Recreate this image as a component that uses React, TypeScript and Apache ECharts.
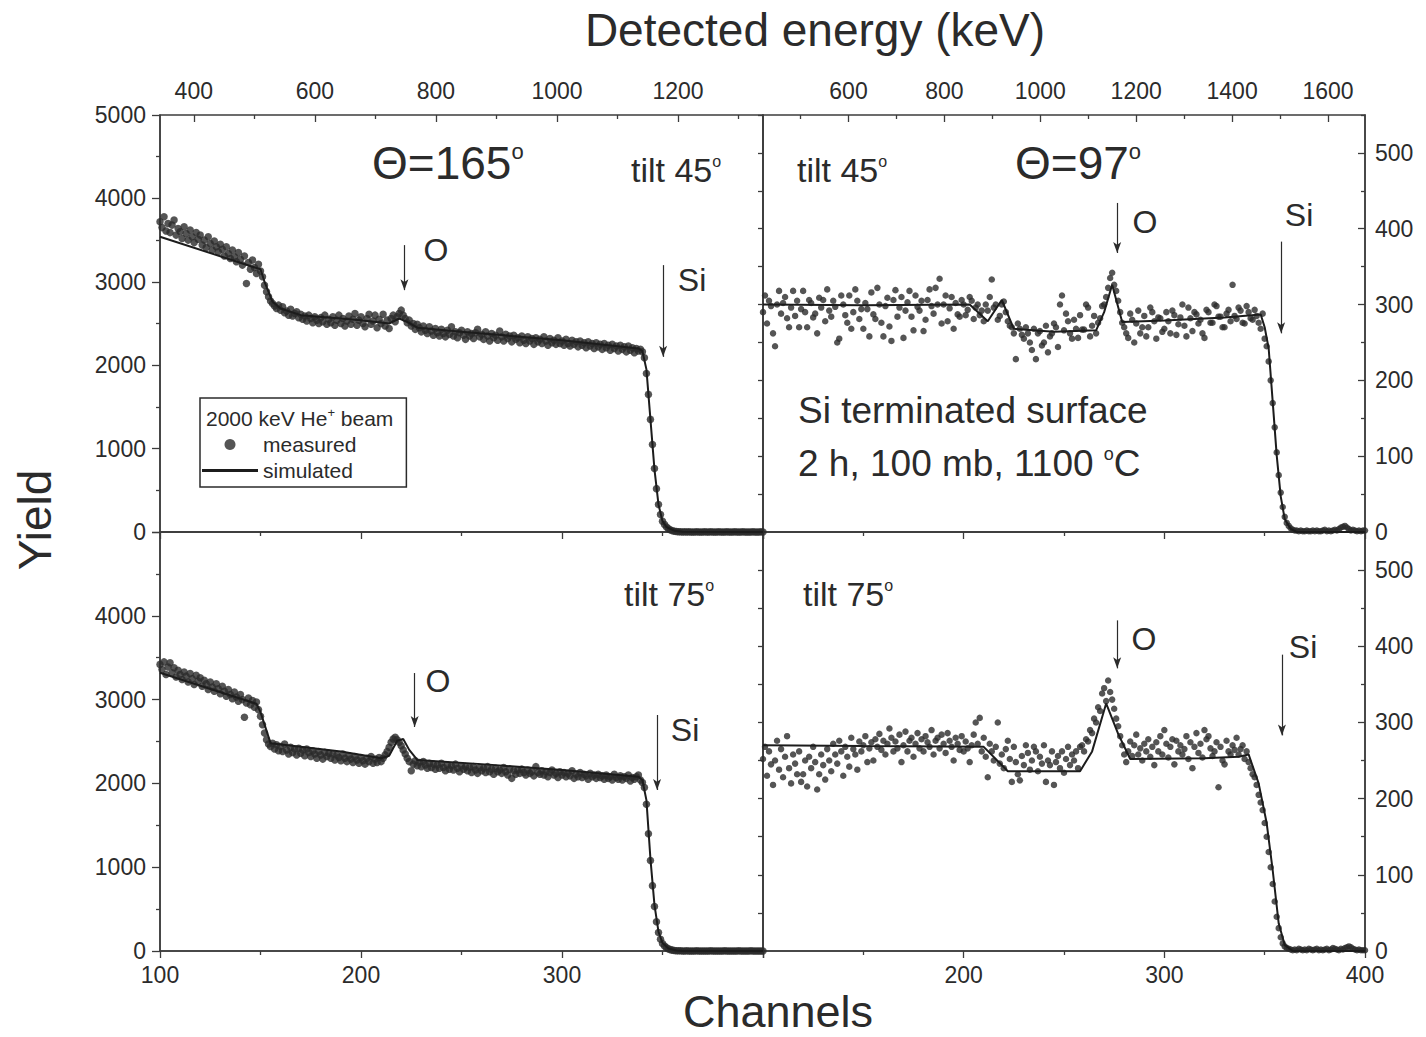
import React, { useEffect, useRef } from "react";
import * as echarts from "echarts";

// ---------- data ----------
const CH_START = 100;
const CH_STEP = 1;

// measured spectra, one value per channel (100..400)
const measuredTL = [
  3720, 3650, 3780, 3610, 3700, 3590, 3680, 3740, 3560, 3640,
  3600, 3520, 3660, 3580, 3500, 3620, 3540, 3470, 3590, 3510,
  3560, 3440, 3500, 3410, 3540, 3460, 3380, 3490, 3420, 3360,
  3450, 3390, 3310, 3420, 3340, 3280, 3380, 3300, 3240, 3350,
  3270, 3200, 3310, 2980, 3230, 3150, 3260, 3170, 3100, 3210,
  3130, 3060, 2960, 2880, 2820, 2770, 2740, 2710, 2680, 2720,
  2660, 2700, 2630, 2650, 2600, 2670, 2590, 2620, 2640, 2570,
  2610, 2550, 2590, 2530, 2600, 2560, 2510, 2580, 2540, 2500,
  2570, 2520, 2600, 2490, 2550, 2510, 2580, 2480, 2540, 2600,
  2500, 2560, 2470, 2530, 2590, 2490, 2550, 2620, 2480, 2540,
  2580, 2500, 2460, 2560, 2610, 2490, 2530, 2600, 2450, 2550,
  2500, 2610, 2470, 2540, 2440, 2560, 2600, 2520, 2580, 2620,
  2660, 2600, 2560, 2510, 2540, 2470, 2500, 2430, 2490, 2450,
  2400, 2470, 2420, 2380, 2460, 2410, 2360, 2440, 2390, 2350,
  2430, 2380, 2340, 2420, 2370, 2460, 2350, 2400, 2330, 2390,
  2420, 2360, 2310, 2400, 2350, 2380, 2320, 2390, 2430, 2340,
  2370, 2310, 2400, 2350, 2290, 2380, 2330, 2360, 2300, 2410,
  2340, 2290, 2370, 2320, 2350, 2280, 2360, 2310, 2330, 2270,
  2350, 2300, 2260, 2340, 2290, 2320, 2250, 2330, 2280, 2310,
  2260, 2340, 2290, 2240, 2320, 2270, 2300, 2250, 2330, 2260,
  2290, 2240, 2310, 2260, 2230, 2300, 2250, 2280, 2220, 2290,
  2240, 2270, 2210, 2280, 2230, 2260, 2200, 2270, 2220, 2250,
  2190, 2260, 2210, 2240, 2180, 2250, 2200, 2230, 2170, 2240,
  2190, 2220, 2160, 2230, 2180, 2210, 2150, 2200, 2170, 2190,
  2160, 2090, 1900, 1650, 1350, 1050, 760, 520, 330, 210,
  130, 90, 60, 38, 25, 16, 10, 6, 4, 2,
  1, 3, 0, 2, 0, 1, 0, 2, 1, 0,
  0, 2, 0, 1, 3, 0, 1, 0, 2, 0,
  1, 0, 2, 0, 0, 1, 3, 0, 1, 0,
  2, 0, 1, 0, 0, 2, 0, 1, 0, 2,
  0,
];
const measuredBL = [
  3420, 3360, 3450, 3300, 3390, 3440, 3320, 3380, 3270, 3350,
  3300, 3240, 3330, 3280, 3210, 3310, 3250, 3180, 3290, 3220,
  3260, 3160, 3230, 3190, 3120, 3210, 3150, 3100, 3190, 3130,
  3070, 3160, 3100, 3040, 3120, 3060, 3010, 3090, 3030, 2980,
  3060, 3000, 2790, 2960, 3020, 2940, 2990, 2910, 2970, 2880,
  2800, 2700, 2600, 2520, 2470, 2440, 2480, 2410, 2460, 2390,
  2440, 2380, 2470, 2400, 2350, 2430, 2370, 2410, 2340, 2420,
  2360, 2400, 2330, 2410, 2370, 2320, 2390, 2350, 2300, 2380,
  2340, 2290, 2370, 2320, 2360, 2300, 2350, 2280, 2340, 2310,
  2270, 2350, 2300, 2260, 2330, 2290, 2250, 2320, 2280, 2240,
  2310, 2270, 2230, 2300, 2260, 2320, 2240, 2290, 2250, 2310,
  2260, 2300, 2340, 2380, 2430, 2490, 2530, 2550, 2520, 2490,
  2450, 2400, 2350, 2300, 2260, 2150, 2230, 2270, 2210, 2250,
  2200, 2260, 2220, 2180, 2240, 2190, 2230, 2170, 2220, 2180,
  2240, 2190, 2150, 2220, 2170, 2210, 2160, 2230, 2180, 2140,
  2210, 2170, 2200, 2150, 2190, 2130, 2200, 2160, 2120, 2190,
  2150, 2180, 2130, 2200, 2140, 2170, 2110, 2180, 2140, 2160,
  2120, 2190, 2140, 2100, 2170, 2060, 2150, 2110, 2160, 2120,
  2170, 2130, 2100, 2160, 2120, 2140, 2090, 2200, 2130, 2110,
  2150, 2100, 2140, 2080, 2130, 2160, 2100, 2120, 2070, 2140,
  2100, 2130, 2080, 2120, 2090, 2150, 2060, 2110, 2080, 2130,
  2070, 2110, 2090, 2050, 2120, 2080, 2100, 2060, 2110, 2070,
  2090, 2050, 2100, 2060, 2080, 2040, 2110, 2070, 2050, 2090,
  2040, 2080, 2060, 2100, 2030, 2070, 2050, 2080, 2100, 2040,
  2010, 1950, 1750, 1400, 1080, 780, 530, 350, 220, 140,
  90, 60, 40, 25, 16, 10, 6, 4, 3, 2,
  1, 0, 2, 0, 1, 0, 0, 2, 0, 1,
  0, 1, 0, 0, 2, 0, 1, 0, 0, 1,
  0, 2, 0, 1, 0, 0, 1, 0, 2, 0,
  0, 1, 0, 0, 2, 0, 1, 0, 0, 1,
  0,
];
const measuredTR = [
  290, 312, 275, 305, 298, 262, 245, 300, 318, 288,
  302, 310, 282, 270, 296, 318, 285, 305, 270, 294,
  318, 290, 270, 306, 302, 283, 288, 262, 309, 296,
  306, 278, 320, 292, 284, 305, 297, 250, 255, 312,
  300, 286, 276, 312, 268, 290, 320, 305, 281, 294,
  268, 302, 294, 258, 316, 287, 281, 322, 300, 276,
  258, 298, 309, 271, 252, 306, 319, 284, 296, 310,
  256, 292, 303, 318, 284, 266, 312, 297, 292, 305,
  265, 280, 306, 320, 298, 288, 322, 300, 334, 275,
  300, 312, 278, 295, 310, 268, 302, 287, 284, 306,
  300, 286, 293, 310, 305, 281, 296, 300, 286, 292,
  278, 300, 292, 310, 333, 296, 300, 280, 285, 300,
  304, 290, 278, 272, 270, 262, 228, 275, 268, 260,
  255, 270, 262, 250, 240, 268, 228, 262, 265, 246,
  250, 272, 237, 258, 262, 275, 270, 244, 300, 312,
  266, 288, 278, 262, 255, 280, 268, 256, 286, 267,
  267, 300, 296, 258, 272, 285, 262, 276, 282, 298,
  300, 310, 322, 335, 342, 326, 318, 305, 290, 276,
  270, 262, 256, 288, 280, 250, 275, 292, 262, 270,
  285, 258, 270, 296, 290, 278, 255, 283, 282, 264,
  268, 290, 278, 262, 292, 286, 260, 274, 283, 300,
  272, 258, 296, 282, 265, 290, 287, 275, 280, 262,
  256, 293, 290, 276, 276, 300, 298, 284, 284, 270,
  270, 288, 293, 278, 326, 285, 281, 296, 292, 276,
  275, 298, 290, 282, 280, 293, 285, 276, 268, 288,
  255, 245, 225, 200, 170, 138, 105, 75, 52, 33,
  20, 12, 8, 5, 3, 2, 2, 1, 2, 1,
  1, 2, 1, 1, 2, 1, 2, 1, 1, 2,
  3, 1, 2, 1, 2, 3, 2, 4, 6, 7,
  8, 6, 4, 2, 3, 2, 1, 2, 1, 2,
  2,
];
const measuredBR = [
  252, 268, 230, 262, 245, 218, 250, 276, 238, 265,
  228, 255, 282, 240, 220, 258, 246, 232, 262, 222,
  232, 250, 216, 255, 240, 268, 248, 212, 232, 258,
  244, 225, 265, 250, 236, 272, 258, 246, 276, 262,
  230, 268, 255, 242, 280, 265, 258, 238, 275, 262,
  270, 282, 248, 266, 274, 250, 278, 268, 285, 264,
  276, 258, 272, 292, 280, 262, 275, 266, 284, 248,
  270, 288, 262, 276, 280, 255, 272, 286, 266, 278,
  262, 282, 274, 268, 290, 258, 276, 280, 266, 284,
  272, 260, 286, 276, 268, 250, 280, 272, 264, 282,
  262, 275, 266, 248, 270, 284, 300, 272, 306, 262,
  280, 255, 228, 272, 262, 250, 268, 300, 246, 258,
  240, 265, 276, 252, 222, 268, 248, 232, 224, 256,
  244, 270, 260, 238, 250, 268, 262, 236, 255, 246,
  270, 222, 250, 244, 262, 218, 248, 256, 240, 262,
  234, 252, 268, 244, 258, 250, 262, 240, 268, 270,
  262, 278, 275, 290, 286, 305, 300, 320, 315, 338,
  345, 328, 355, 340, 330, 318, 305, 295, 282, 270,
  258, 248, 262, 275, 256, 270, 284, 258, 266, 250,
  272, 262, 278, 255, 268, 244, 274, 262, 282, 258,
  290, 272, 254, 268, 278, 245, 276, 262, 270, 258,
  265, 282, 252, 274, 240, 268, 286, 260, 272, 254,
  290, 278, 282, 266, 256, 262, 274, 215, 268, 250,
  245, 276, 262, 258, 270, 264, 280, 258, 265, 270,
  252, 262, 248, 240, 232, 228, 218, 205, 195, 185,
  168, 150, 130, 110, 88, 65, 45, 30, 18, 10,
  6, 4, 3, 2, 1, 2, 1, 3, 2, 1,
  2, 1, 3, 2, 1, 2, 3, 1, 2, 1,
  2, 3, 1, 2, 4, 3, 2, 1, 3, 2,
  4, 5, 6, 5, 3, 2, 1, 2, 1, 1,
  1,
];

// simulated spectra: [channel, yield]
const simulatedTL = [
  [100, 3540], [150, 3150], [152, 3000], [156, 2760], [160, 2680], [170, 2600], [200, 2540], [214, 2500], [219, 2560], [223, 2520],
  [228, 2450], [250, 2400], [300, 2300], [338, 2200], [340, 2170], [342, 1950], [344, 1350], [346, 750], [348, 330], [350, 130],
  [352, 60], [356, 14], [360, 2], [400, 0],
];
const simulatedBL = [
  [100, 3320], [148, 2950], [150, 2850], [155, 2480], [190, 2380], [210, 2300], [214, 2330], [218, 2510], [221, 2530], [224, 2400],
  [228, 2280], [260, 2230], [300, 2160], [338, 2080], [340, 2040], [342, 1800], [344, 1100], [346, 550], [348, 230], [350, 95],
  [353, 30], [357, 6], [360, 1], [400, 0],
];
const simulatedTR = [
  [100, 300], [150, 299], [203, 300], [212, 278], [219, 306], [225, 268], [245, 264], [266, 266], [270, 290], [274, 326],
  [279, 277], [300, 279], [330, 283], [348, 287], [350, 270], [352, 242], [354, 172], [356, 101], [358, 47], [360, 17],
  [363, 4], [366, 0], [400, 0],
];
const simulatedBR = [
  [100, 270], [150, 269], [210, 268], [222, 236], [258, 236], [264, 262], [271, 325], [277, 285], [283, 252], [320, 253],
  [337, 255], [342, 258], [347, 220], [351, 168], [354, 106], [357, 36], [360, 8], [364, 0], [400, 0],
];

// arrows: [channel, from, to]
const arrowsTL = [[221.6, 3440, 2900], [350.3, 3200, 2100]];
const arrowsBL = [[226.7, 3317, 2673], [347.3, 2816, 1921]];
const arrowsTR = [[276.5, 434, 368], [358.2, 383, 262]];
const arrowsBR = [[276.5, 434, 371], [358.6, 389, 283]];

// axes
const channelTicks = { min: 100, max: 400, interval: 100 };
const yieldRange = { min: 0, max: 5000, interval: 1000 };
const rightRange = { min: 0, max: 550 };
const rightMajor = [0, 100, 200, 300, 400, 500];
const rightMinor = [50, 150, 250, 350, 450, 550];
const rightAll = [0, 50, 100, 150, 200, 250, 300, 350, 400, 450, 500, 550];
const energyRangeTL = [344.2, 1340.4];
const energyMajorTL = [400, 600, 800, 1000, 1200];
const energyMinorTL = [500, 700, 900, 1100, 1300];
const energyRangeTR = [421.7, 1677.2];
const energyMajorTR = [600, 800, 1000, 1200, 1400, 1600];
const energyMinorTR = [500, 700, 900, 1100, 1300, 1500];

// ---------- style ----------
const FONT = "'Liberation Sans', Arial, Helvetica, sans-serif";
const INK = "#2b2b2b";
const AXIS = "#3c3c3c";

const pairs = (values: number[]) => values.map((v, i) => [CH_START + i * CH_STEP, v]);

const tickLine = { color: AXIS, width: 1.3 };
const axisLine = { show: true, onZero: false, lineStyle: { color: AXIS, width: 1.5 } };
const labelStyle = { color: INK, fontSize: 23, fontFamily: FONT };

function channelAxis(grid: number, showLabel: boolean, hide: number | null) {
  return {
    type: "value",
    gridIndex: grid,
    position: "bottom",
    ...channelTicks,
    axisLine,
    splitLine: { show: false },
    axisTick: { show: true, inside: false, length: 7, lineStyle: tickLine },
    minorTick: { show: true, splitNumber: 2, length: 4, lineStyle: tickLine },
    minorSplitLine: { show: false },
    axisLabel: {
      show: showLabel,
      ...labelStyle,
      margin: 12,
      formatter: (v: number) => (v === hide ? "" : String(v)),
    },
  };
}

function energyAxes(grid: number, range: number[], major: number[], minor: number[]) {
  return [
    {
      type: "value",
      gridIndex: grid,
      position: "top",
      min: range[0],
      max: range[1],
      axisLine: { show: false, onZero: false },
      splitLine: { show: false },
      axisTick: { show: true, inside: true, length: 7, lineStyle: tickLine, customValues: major },
      axisLabel: { show: true, ...labelStyle, margin: 13, customValues: major, formatter: (v: number) => String(Math.round(v)) },
    },
    {
      type: "value",
      gridIndex: grid,
      position: "top",
      min: range[0],
      max: range[1],
      axisLine: { show: false, onZero: false },
      splitLine: { show: false },
      axisTick: { show: true, inside: true, length: 4, lineStyle: tickLine, customValues: minor },
      axisLabel: { show: false, customValues: minor },
    },
  ];
}

function yieldAxis(grid: number, hideTop: boolean) {
  return {
    type: "value",
    gridIndex: grid,
    position: "left",
    ...yieldRange,
    axisLine,
    splitLine: { show: false },
    axisTick: { show: true, inside: false, length: 8, lineStyle: tickLine },
    minorTick: { show: true, splitNumber: 2, length: 4, lineStyle: tickLine },
    minorSplitLine: { show: false },
    axisLabel: {
      ...labelStyle,
      margin: 14,
      formatter: (v: number) => (hideTop && v === 5000 ? "" : String(v)),
    },
  };
}

function rightAxes(grid: number) {
  return [
    {
      type: "value",
      gridIndex: grid,
      position: "right",
      ...rightRange,
      axisLine,
      splitLine: { show: false },
      axisTick: { show: true, inside: true, length: 7, lineStyle: tickLine, customValues: rightMajor },
      axisLabel: { ...labelStyle, margin: 10, customValues: rightMajor },
    },
    {
      type: "value",
      gridIndex: grid,
      position: "right",
      ...rightRange,
      axisLine: { show: false, onZero: false },
      splitLine: { show: false },
      axisTick: { show: true, inside: true, length: 4, lineStyle: tickLine, customValues: rightMinor },
      axisLabel: { show: false, customValues: rightMinor },
    },
    {
      type: "value",
      gridIndex: grid,
      position: "left",
      ...rightRange,
      axisLine,
      splitLine: { show: false },
      axisTick: { show: true, inside: false, length: 5, lineStyle: tickLine, customValues: rightAll },
      axisLabel: { show: false, customValues: rightAll },
    },
  ];
}

function panelSeries(xIdx: number, yIdx: number, measured: number[], simulated: number[][], arrows: number[][], dot: number) {
  return [
    {
      type: "scatter",
      name: "measured",
      xAxisIndex: xIdx,
      yAxisIndex: yIdx,
      data: pairs(measured),
      symbol: "circle",
      symbolSize: dot,
      itemStyle: { color: INK },
      silent: true,
      z: 2,
    },
    {
      type: "line",
      name: "simulated",
      xAxisIndex: xIdx,
      yAxisIndex: yIdx,
      data: simulated,
      symbol: "none",
      lineStyle: { color: "#1c1c1c", width: 2 },
      itemStyle: { color: "#1c1c1c" },
      silent: true,
      z: 3,
      markLine: {
        silent: true,
        symbol: ["none", "arrow"],
        symbolSize: 10,
        label: { show: false },
        emphasis: { disabled: true },
        lineStyle: { color: INK, width: 1.2, type: "solid" },
        data: arrows.map((a) => [
          { coord: [a[0], a[1]], symbol: "none" },
          { coord: [a[0], a[2]], symbol: "arrow", symbolSize: [6, 11] },
        ]),
      },
    },
  ];
}

function txt(text: string, x: number, y: number, fontSize: number, align = "left", extra: any = {}) {
  return {
    type: "text",
    x,
    y,
    z: 50,
    silent: true,
    ...extra,
    style: {
      text,
      fill: INK,
      fontSize,
      fontFamily: FONT,
      textAlign: align,
      align,
      textVerticalAlign: "middle",
      verticalAlign: "middle",
      rich: {
        d: { fontSize: Math.round(fontSize * 0.48), fontFamily: FONT, fill: INK, padding: [0, 0, Math.round(fontSize * 0.5), 0] },
        p: { fontSize: Math.round(fontSize * 0.6), fontFamily: FONT, fill: INK, padding: [0, 0, Math.round(fontSize * 0.5), 0] },
      },
    },
  };
}

function buildOption() {
  const xAxis = [
    channelAxis(0, false, null), // 0 TL bottom
    ...energyAxes(0, energyRangeTL, energyMajorTL, energyMinorTL), // 1,2
    channelAxis(1, false, null), // 3 TR bottom
    ...energyAxes(1, energyRangeTR, energyMajorTR, energyMinorTR), // 4,5
    channelAxis(2, true, 400), // 6 BL bottom
    channelAxis(3, true, 100), // 7 BR bottom
  ];
  const yAxis = [
    yieldAxis(0, false), // 0 TL
    ...rightAxes(1), // 1,2,3 TR
    yieldAxis(2, true), // 4 BL
    ...rightAxes(3), // 5,6,7 BR
  ];
  const series = [
    ...panelSeries(0, 0, measuredTL, simulatedTL, arrowsTL, 7.5),
    ...panelSeries(3, 1, measuredTR, simulatedTR, arrowsTR, 6.5),
    ...panelSeries(6, 4, measuredBL, simulatedBL, arrowsBL, 7.5),
    ...panelSeries(7, 5, measuredBR, simulatedBR, arrowsBR, 6.5),
  ];
  const gridBase = { show: true, borderColor: AXIS, borderWidth: 1.5, backgroundColor: "transparent", containLabel: false };
  return {
    animation: false,
    backgroundColor: "#ffffff",
    grid: [
      { ...gridBase, left: 160, top: 115, width: 603, height: 417 },
      { ...gridBase, left: 763, top: 115, width: 602, height: 417 },
      { ...gridBase, left: 160, top: 532, width: 603, height: 419 },
      { ...gridBase, left: 763, top: 532, width: 602, height: 419 },
    ],
    xAxis,
    yAxis,
    series,
    legend: {
      left: 200,
      top: 398,
      orient: "vertical",
      selectedMode: false,
      data: [
        { name: "measured", icon: "circle" },
        { name: "simulated", icon: "path://M0,0H60V3H0Z" },
      ],
      itemWidth: 56,
      itemHeight: 11,
      itemGap: 5,
      padding: [36, 50, 6, 2],
      borderColor: INK,
      borderWidth: 1.5,
      textStyle: { color: INK, fontSize: 21, fontFamily: FONT },
    },
    graphic: [
      txt("Detected energy (keV)", 815, 30, 46, "center"),
      txt("Channels", 778, 1011, 45, "center"),
      txt("Yield", 35, 520, 46, "center", { rotation: Math.PI / 2 }),
      txt("Θ=165{d|o}", 372, 163, 46),
      txt("Θ=97{d|o}", 1015, 163, 46),
      txt("tilt 45{d|o}", 631, 170, 34),
      txt("tilt 45{d|o}", 797, 170, 34),
      txt("tilt 75{d|o}", 624, 594, 34),
      txt("tilt 75{d|o}", 803, 594, 34),
      txt("Si terminated surface", 798, 410, 37),
      txt("2 h, 100 mb, 1100 {d|o}C", 798, 463, 37),
      txt("O", 436, 250, 32, "center"),
      txt("O", 438, 681, 32, "center"),
      txt("O", 1145, 222, 32, "center"),
      txt("O", 1144, 639, 32, "center"),
      txt("Si", 692, 280, 32, "center"),
      txt("Si", 685, 730, 32, "center"),
      txt("Si", 1299, 215, 32, "center"),
      txt("Si", 1303, 647, 32, "center"),
      txt("2000 keV He{p|+} beam", 206, 418, 21),
    ],
  };
}

export default function App() {
  const ref = useRef<HTMLDivElement>(null);
  useEffect(() => {
    document.body.style.margin = "0";
    const chart = echarts.init(ref.current as HTMLDivElement, null, { renderer: "svg" });
    chart.setOption(buildOption() as any);
    return () => chart.dispose();
  }, []);
  return <div ref={ref} style={{ width: 1426, height: 1037, background: "#fff" }} />;
}
